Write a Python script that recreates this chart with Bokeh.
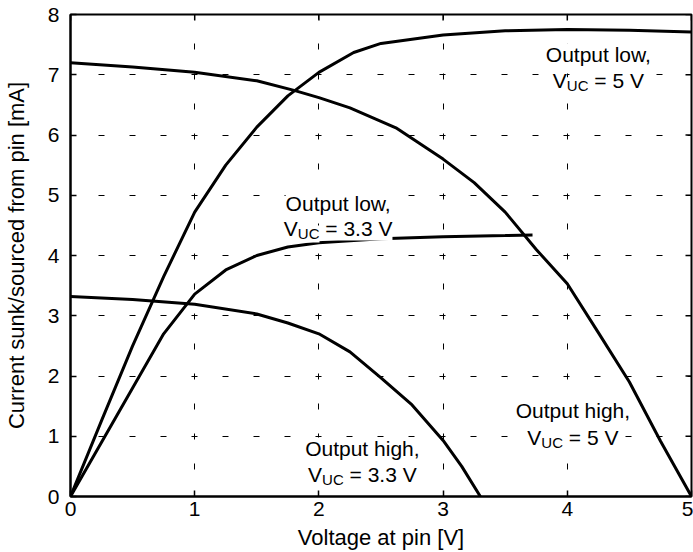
import math
from bokeh.plotting import figure
from bokeh.models import Range1d, FixedTicker
from bokeh.core.properties import value
from bokeh.embed import file_html
from bokeh.resources import INLINE

# ---- data ----
x_ticks = [0, 1, 2, 3, 4, 5]
y_ticks = [0, 1, 2, 3, 4, 5, 6, 7, 8]

x_low5 = [0, 0.25, 0.5, 0.75, 1.0, 1.25, 1.5, 1.75, 2.0, 2.28, 2.5, 3.0, 3.5, 4.0, 4.5, 5.0]
y_low5 = [0, 1.26, 2.5, 3.65, 4.72, 5.5, 6.13, 6.65, 7.04, 7.37, 7.52, 7.66, 7.73, 7.75, 7.74, 7.71]

x_low33 = [0, 0.25, 0.5, 0.75, 1.0, 1.25, 1.5, 1.75, 2.0, 2.5, 3.0, 3.5, 3.72]
y_low33 = [0, 0.9, 1.8, 2.7, 3.36, 3.76, 4.0, 4.14, 4.21, 4.28, 4.31, 4.33, 4.34]

x_high5 = [0, 0.5, 1.0, 1.5, 1.8, 2.0, 2.25, 2.62, 3.0, 3.25, 3.5, 3.75, 4.0, 4.25, 4.5, 4.75, 5.0]
y_high5 = [7.2, 7.13, 7.04, 6.9, 6.74, 6.62, 6.45, 6.12, 5.6, 5.21, 4.72, 4.1, 3.53, 2.72, 1.9, 0.92, 0]

x_high33 = [0, 0.5, 1.0, 1.5, 1.75, 2.0, 2.25, 2.5, 2.75, 3.0, 3.15, 3.3]
y_high33 = [3.32, 3.27, 3.19, 3.03, 2.88, 2.70, 2.40, 1.97, 1.52, 0.93, 0.5, 0]

x_title = "Voltage at pin [V]"
y_title = "Current sunk/sourced from pin [mA]"

FONT = "Liberation Sans"
FS = 21
TITLE_FS = 22
SUB_FS = 15

X0, X1 = 0, 5
Y0, Y1 = 0, 8

p = figure(width=693, height=552, x_range=Range1d(X0, X1), y_range=Range1d(Y0, Y1),
           output_backend="svg", toolbar_location=None,
           min_border_left=70, min_border_right=2, min_border_top=14, min_border_bottom=56)
p.background_fill_color = "white"
p.border_fill_color = "white"
p.outline_line_color = "black"
p.outline_line_width = 2

for ax in (p.xaxis[0], p.yaxis[0]):
    ax.axis_line_color = "black"
    ax.axis_line_width = 2
    ax.major_tick_in = 6
    ax.major_tick_out = 0
    ax.major_tick_line_color = "black"
    ax.major_tick_line_width = 1.5
    ax.minor_tick_line_color = None
    ax.major_label_text_font = FONT
    ax.major_label_text_color = "black"
    ax.major_label_text_font_size = f"{FS}px"
    ax.axis_label_text_font = FONT
    ax.axis_label_text_font_style = "normal"
    ax.axis_label_text_color = "black"
    ax.axis_label_text_font_size = f"{TITLE_FS}px"

p.xaxis.ticker = FixedTicker(ticks=x_ticks)
p.yaxis.ticker = FixedTicker(ticks=y_ticks)
p.xaxis.axis_label = x_title
p.yaxis.axis_label = y_title
p.xaxis.major_label_standoff = 5
p.yaxis.major_label_standoff = 11
p.xaxis.axis_label_standoff = 6
p.yaxis.axis_label_standoff = 16

# inward ticks on the top and right edges
p.ray(x=x_ticks, y=[Y1] * len(x_ticks), length=6, length_units="screen",
      angle=-math.pi / 2, line_color="black", line_width=1.5)
p.ray(x=[X1] * len(y_ticks), y=y_ticks, length=6, length_units="screen",
      angle=math.pi, line_color="black", line_width=1.5)

p.xgrid.grid_line_color = "black"
p.xgrid.grid_line_width = 1
p.xgrid.grid_line_dash = "6 24"
p.xgrid.grid_line_dash_offset = 3
p.ygrid.grid_line_color = "black"
p.ygrid.grid_line_width = 1
p.ygrid.grid_line_dash = "6 25"
p.ygrid.grid_line_dash_offset = 3

for xs, ys in [(x_low5, y_low5), (x_low33, y_low33), (x_high5, y_high5), (x_high33, y_high33)]:
    p.line(xs, ys, line_color="black", line_width=3)

# Arial advance widths (em)
W = {"V": .667, "U": .722, "C": .722, " ": .278, "\u00a0": .278, "=": .584, "5": .556,
     "3": .556, ".": .278}

def width(s, fs):
    return sum(W[c] for c in s) * fs

TXT = dict(text_baseline="alphabetic", text_font=value(FONT), text_color="black",
           background_fill_color="white")

def add_label(xc, y1, y2, line1, sub, rest):
    p.text(x=[xc], y=[y1], text=[line1], text_align="center", text_font_size=f"{FS}px", **TXT)
    rest = "\u00a0" + rest
    wv = width("V", FS)
    ws = width(sub, SUB_FS)
    wr = width(rest, FS)
    x0 = -(wv + ws + wr) / 2
    p.text(x=[xc], y=[y2], text=["V"], text_align="left", x_offset=x0,
           text_font_size=f"{FS}px", **TXT)
    p.text(x=[xc], y=[y2], text=[sub], text_align="left", x_offset=x0 + wv, y_offset=5,
           text_font_size=f"{SUB_FS}px", **TXT)
    p.text(x=[xc], y=[y2], text=[rest], text_align="left", x_offset=x0 + wv + ws,
           text_font_size=f"{FS}px", **TXT)

add_label(4.25, 7.33, 6.90, "Output low,", "UC", "= 5 V")
add_label(2.155, 4.86, 4.44, "Output low,", "UC", "= 3.3 V")
add_label(2.35, 0.79, 0.365, "Output high,", "UC", "= 3.3 V")
add_label(4.045, 1.43, 0.98, "Output high,", "UC", "= 5 V")

open("out.html", "w").write(file_html(p, INLINE))
